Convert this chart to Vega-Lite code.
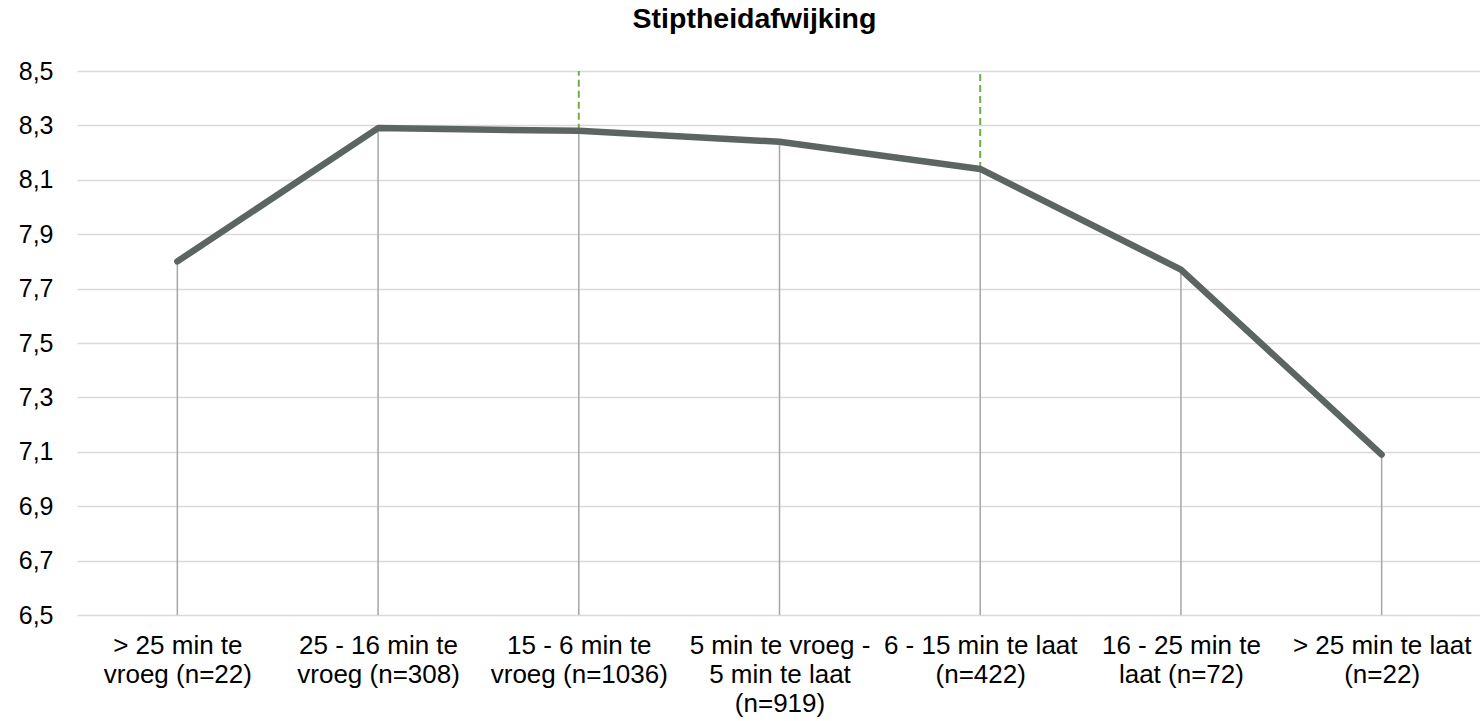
{
  "$schema": "https://vega.github.io/schema/vega-lite/v6.json",
  "width": 1405,
  "height": 544,
  "autosize": {"type": "none"},
  "padding": {"left": 77, "top": 71, "right": 0, "bottom": 106},
  "background": "#ffffff",
  "config": {"view": {"stroke": null}, "font": "Liberation Sans"},
  "title": {
    "text": "Stiptheidafwijking",
    "font": "Liberation Sans",
    "fontSize": 28.5,
    "fontWeight": "bold",
    "color": "#000000",
    "anchor": "middle",
    "frame": "group",
    "baseline": "alphabetic",
    "offset": 3,
    "dx": -25
  },
  "data": {
    "values": [
      {"categorie": "> 25 min te|vroeg (n=22)", "score": 7.80, "markering": false},
      {"categorie": "25 - 16 min te|vroeg (n=308)", "score": 8.29, "markering": false},
      {"categorie": "15 - 6 min te|vroeg (n=1036)", "score": 8.28, "markering": true},
      {"categorie": "5 min te vroeg -|5 min te laat|(n=919)", "score": 8.24, "markering": false},
      {"categorie": "6 - 15 min te laat|(n=422)", "score": 8.14, "markering": true},
      {"categorie": "16 - 25 min te|laat (n=72)", "score": 7.77, "markering": false},
      {"categorie": "> 25 min te laat|(n=22)", "score": 7.09, "markering": false}
    ]
  },
  "encoding": {
    "x": {
      "field": "categorie",
      "type": "nominal",
      "sort": null,
      "scale": {"type": "point", "padding": 0.5},
      "axis": {
        "title": null,
        "labelAngle": 0,
        "labelExpr": "split(datum.label, '|')",
        "labelFont": "Liberation Sans",
        "labelFontSize": 26,
        "labelLineHeight": 29,
        "labelColor": "#000000",
        "labelPadding": 17,
        "labelLimit": 0,
        "domain": false,
        "ticks": false,
        "tickSize": 0,
        "grid": false
      }
    }
  },
  "layer": [
    {
      "mark": {"type": "rule", "color": "#a6a6a6", "strokeWidth": 1.5},
      "encoding": {
        "y": {
          "field": "score",
          "type": "quantitative",
          "scale": {"domain": [6.5, 8.5], "nice": false, "zero": false},
          "axis": {
            "title": null,
            "values": [6.5, 6.7, 6.9, 7.1, 7.3, 7.5, 7.7, 7.9, 8.1, 8.3, 8.5],
            "labelExpr": "replace(format(datum.value, '.1f'), '.', ',')",
            "labelFont": "Liberation Sans",
            "labelFontSize": 25,
            "labelColor": "#000000",
            "labelPadding": 24,
            "domain": false,
            "ticks": false,
            "tickSize": 0,
            "grid": true,
            "gridColor": "#d9d9d9",
            "gridWidth": 1.5
          }
        },
        "y2": {"datum": 6.5}
      }
    },
    {
      "transform": [{"filter": "datum.markering"}],
      "mark": {"type": "rule", "color": "#70ad47", "strokeWidth": 2, "strokeDash": [7, 4]},
      "encoding": {
        "y": {"field": "score", "type": "quantitative"},
        "y2": {"datum": 8.5}
      }
    },
    {
      "mark": {"type": "line", "color": "#5d6562", "strokeWidth": 6.5, "strokeCap": "round", "strokeJoin": "round"},
      "encoding": {
        "y": {"field": "score", "type": "quantitative"}
      }
    }
  ]
}
